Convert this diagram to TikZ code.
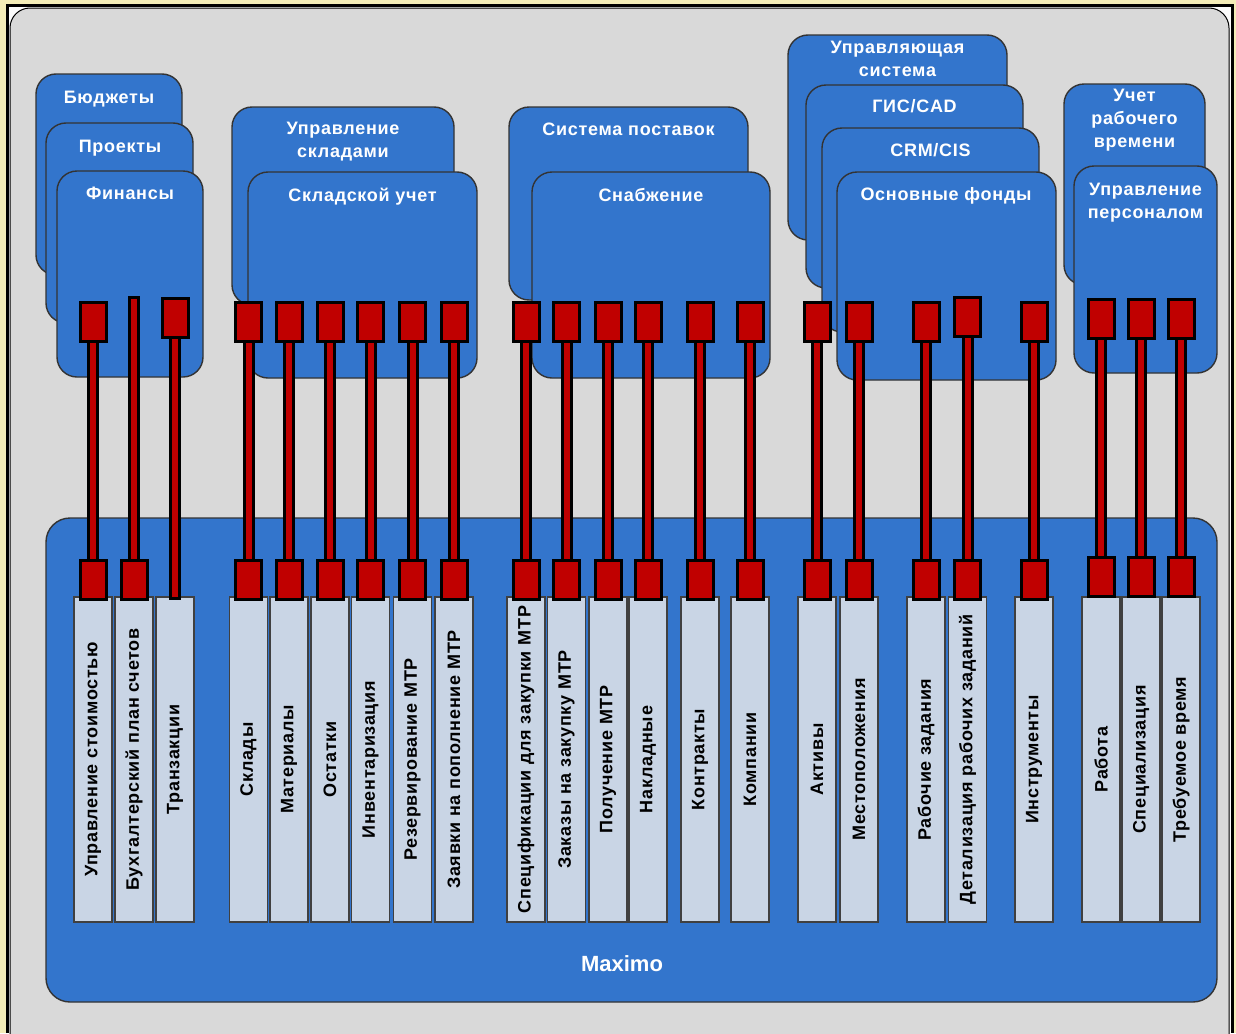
\documentclass[tikz,border=0pt]{standalone}
\usepackage{fontspec}
\setmainfont{Liberation Sans}
\newfontfamily\lblfont[LetterSpace=4]{Liberation Sans}
\definecolor{boxblue}{HTML}{3375CC}
\definecolor{pinred}{HTML}{C00000}
\definecolor{stripfill}{HTML}{C9D5E5}
\definecolor{slidegray}{HTML}{D9D9D9}
\definecolor{paper}{HTML}{F4EDB8}
\tikzset{
  module/.style={draw=black!80, line width=0.7pt, fill=boxblue, rounded corners=10pt},
  modlabel/.style={text=white, font=\lblfont\bfseries\fontsize{9}{11.5}\selectfont, align=center, anchor=north, inner sep=0pt},
  tablestrip/.style={draw=black!75, line width=0.75pt, fill=stripfill, rotate=90, minimum width=162.5pt, minimum height=19pt, inner sep=0pt, font=\lblfont\bfseries\fontsize{9}{11}\selectfont},
  pin/.style={draw=black, line width=1.5pt, fill=pinred, minimum width=13pt, minimum height=19.5pt, inner sep=0pt},
  link/.style={draw=black, line width=6pt, postaction={draw=pinred, line width=3pt, shorten <=1.5pt, shorten >=1.5pt}},
}
\begin{document}
\begin{tikzpicture}[x=0.5pt,y=-0.5pt]
  \useasboundingbox (0,0) rectangle (1236,1033);
  \fill[paper] (0,0) rectangle (1236,1033);
  \draw[line width=1.5pt, fill=white!90!slidegray] (7,1033) -- (7,5) -- (1232,5) -- (1232,1033);
  \draw[line width=0.5pt, fill=slidegray, rounded corners=10pt] (10,1040) -- (10,8) -- (1229,8) -- (1229,1040);

  % modules
  \draw[module] (36,74) rectangle (182,275);
  \draw[module] (46,123) rectangle (193,323);
  \draw[module] (57,171) rectangle (203,377);
  \node[modlabel] (budget) at (109,90.5) {Бюджеты};
  \node[modlabel] (proj) at (120,139.5) {Проекты};
  \node[modlabel] (fin) at (130,186.5) {Финансы};

  \draw[module] (232,107) rectangle (454,305);
  \draw[module] (248,172) rectangle (477,378);
  \node[modlabel] (whmgmt) at (343,121.5) {Управление\\складами};
  \node[modlabel] (stock) at (362.5,187.5) {Складской учет};

  \draw[module] (509,107) rectangle (748,300);
  \draw[module] (532,172) rectangle (770,378);
  \node[modlabel] (supply) at (628.5,122.5) {Система поставок};
  \node[modlabel] (purch) at (651,187.5) {Снабжение};

  \draw[module] (788,35) rectangle (1007,240);
  \draw[module] (806,85) rectangle (1023,288);
  \draw[module] (822,128) rectangle (1039,332);
  \draw[module] (837,172) rectangle (1056,380);
  \node[modlabel] (ctrl) at (897.5,40.5) {Управляющая\\система};
  \node[modlabel] (gis) at (914.5,99.5) {ГИС/CAD};
  \node[modlabel] (crm) at (930.5,143.5) {CRM/CIS};
  \node[modlabel] (assets) at (946,187.5) {Основные фонды};

  \draw[module] (1064,84) rectangle (1205,285);
  \draw[module] (1074,166) rectangle (1217,373);
  \node[modlabel] (time) at (1134.5,88.5) {Учет\\рабочего\\времени};
  \node[modlabel] (hr) at (1145.5,182.5) {Управление\\персоналом};

  \draw[module, rounded corners=12pt] (46,518) rectangle (1217,1002);
  \node[text=white, font=\bfseries\fontsize{11}{13}\selectfont] (maximo) at (622,964) {Maximo};

  % tables
  \foreach \x/\txt [count=\i] in {93/Управление стоимостью, 134/Бухгалтерский план счетов,
      175/Транзакции, 248.5/Склады, 289/Материалы, 330/Остатки, 370.5/Инвентаризация,
      412.5/Резервирование МТР, 454/Заявки на пополнение МТР,
      526/Спецификации для закупки МТР, 566.5/Заказы на закупку МТР, 608/Получение МТР,
      648/Накладные, 700/Контракты, 750/Компании, 817/Активы, 859/Местоположения,
      926/Рабочие задания, 967.5/Детализация рабочих заданий, 1034/Инструменты,
      1101/Работа, 1141/Специализация, 1181/Требуемое время}
    \node[tablestrip] (s\i) at (\x,759.5) {\txt};

  % pins and links
  \foreach \x [count=\i] in {93,134,175,248.5,289,330,370.5,412.5,454,526,566.5,608,648,700,750,817,859,926,967.5,1034} {
    \coordinate (t\i) at (\x,322);
    \coordinate (b\i) at (\x,580);
  }
  \foreach \x [count=\i from 21] in {1101,1141,1181} {
    \coordinate (t\i) at (\x,319);
    \coordinate (b\i) at (\x,577);
  }
  \coordinate (t2) at (134,296);
  \coordinate (t3) at (175,317.5);
  \coordinate (t19) at (967.5,317);
  \coordinate (b3) at (175,600);
  \foreach \i in {1,...,23}
    \draw[link] (t\i) -- (b\i);
  \foreach \i in {1,3,4,...,23}
    \node[pin] (pt\i) at (t\i) {};
  \foreach \i in {1,2,4,5,...,23}
    \node[pin] (pb\i) at (b\i) {};
\end{tikzpicture}
\end{document}
